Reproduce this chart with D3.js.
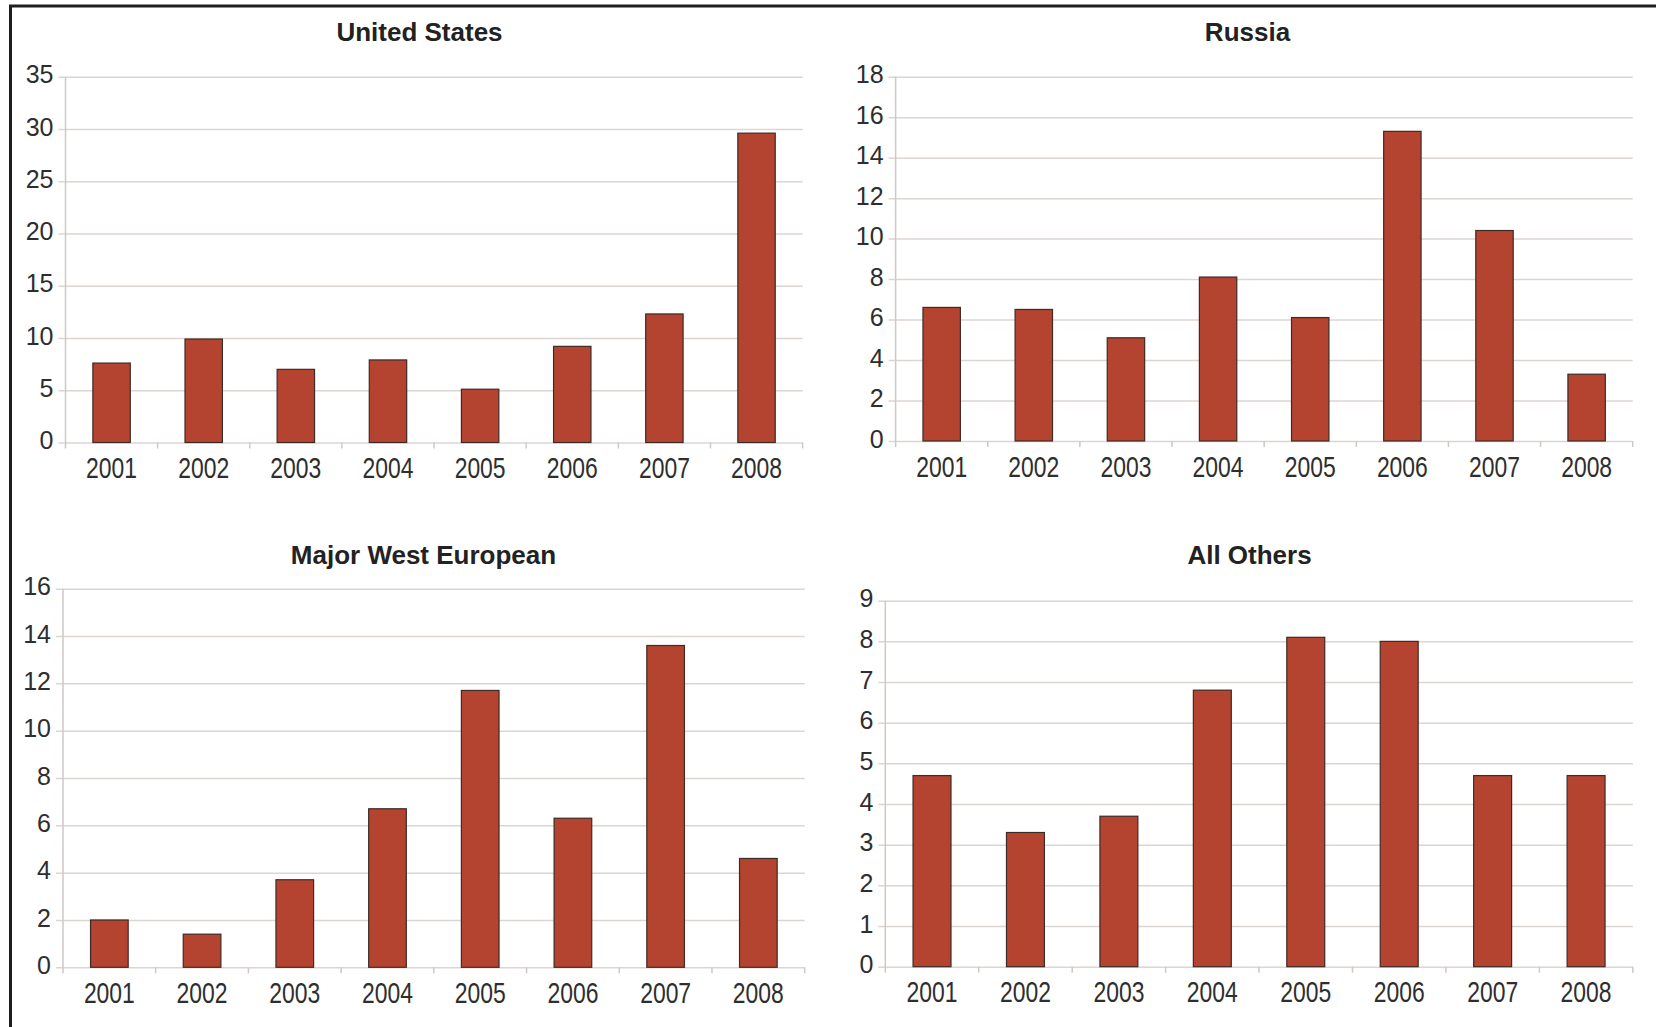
<!DOCTYPE html>
<html>
<head>
<meta charset="utf-8">
<script src="https://cdn.jsdelivr.net/npm/d3@7"></script>
<style>
  body { margin: 0; background: #fff; }
  svg { display: block; }
</style>
</head>
<body>
<svg id="chart" width="1656" height="1027"></svg>
<script>
// ---- data ----
const years = ["2001", "2002", "2003", "2004", "2005", "2006", "2007", "2008"];
const usValues = [7.6, 9.9, 7.0, 7.9, 5.1, 9.2, 12.3, 29.6];
const russiaValues = [6.6, 6.5, 5.1, 8.1, 6.1, 15.3, 10.4, 3.3];
const westEuropeValues = [2.0, 1.4, 3.7, 6.7, 11.7, 6.3, 13.6, 4.6];
const othersValues = [4.7, 3.3, 3.7, 6.8, 8.1, 8.0, 4.7, 4.7];
const usTicks = [0, 5, 10, 15, 20, 25, 30, 35];
const russiaTicks = [0, 2, 4, 6, 8, 10, 12, 14, 16, 18];
const westEuropeTicks = [0, 2, 4, 6, 8, 10, 12, 14, 16];
const othersTicks = [0, 1, 2, 3, 4, 5, 6, 7, 8, 9];
const titles = ["United States", "Russia", "Major West European", "All Others"];

// ---- layout ----
const panels = [
  { title: titles[0], values: usValues, ticks: usTicks, left: 65.5, right: 802.6, top: 76.7, bottom: 442.5, titleX: 419.5, titleY: 40.7 },
  { title: titles[1], values: russiaValues, ticks: russiaTicks, left: 895.6, right: 1632.7, top: 76.7, bottom: 441, titleX: 1247.5, titleY: 40.5 },
  { title: titles[2], values: westEuropeValues, ticks: westEuropeTicks, left: 63, right: 804.7, top: 588.7, bottom: 967.3, titleX: 423.5, titleY: 564 },
  { title: titles[3], values: othersValues, ticks: othersTicks, left: 885.3, right: 1632.8, top: 600.7, bottom: 966.7, titleX: 1249.5, titleY: 564 }
];

const svg = d3.select("#chart");
const gridColor = "#dcd6d2";
const axisColor = "#cfc8c4";
const textColor = "#2e2e2e";
const barFill = "#b4442f";
const barStroke = "#3d2b26";
const pad = 0.594;

// outer frame (left and top edges)
svg.append("path")
  .attr("d", "M10.5,1027 V6 H1656")
  .attr("fill", "none")
  .attr("stroke", "#1e1e1e")
  .attr("stroke-width", 3);

panels.forEach(p => {
  const w = p.right - p.left;
  const maxV = p.ticks[p.ticks.length - 1];
  const y = d3.scaleLinear().domain([0, maxV]).range([p.bottom, p.top]);
  const x = d3.scaleBand().domain(years).range([p.left, p.right])
    .paddingInner(pad).paddingOuter(pad / 2);

  const g = svg.append("g");

  // title
  g.append("text")
    .attr("x", p.titleX).attr("y", p.titleY)
    .attr("text-anchor", "middle")
    .attr("font-family", "'Liberation Sans', Arial, sans-serif")
    .attr("font-weight", "bold")
    .attr("font-size", 26)
    .attr("fill", "#222")
    .text(p.title);

  // y axis with gridlines
  const ya = g.append("g")
    .attr("transform", `translate(${p.left},0)`)
    .call(d3.axisLeft(y).tickValues(p.ticks).tickSizeInner(-w).tickSizeOuter(0).tickPadding(12));
  ya.select(".domain").remove();
  ya.selectAll(".tick line")
    .attr("x1", -7)
    .attr("stroke", gridColor)
    .attr("stroke-width", 1.5);
  ya.selectAll(".tick text")
    .attr("dy", "0.25em")
    .attr("font-family", "'Liberation Sans', Arial, sans-serif")
    .attr("font-size", 25)
    .attr("fill", textColor);

  // vertical axis line
  g.append("line")
    .attr("x1", p.left).attr("x2", p.left)
    .attr("y1", p.top).attr("y2", p.bottom + 6)
    .attr("stroke", axisColor).attr("stroke-width", 1.5);

  // category boundary ticks
  const gap = (x.step() - x.bandwidth()) / 2;
  const bounds = years.map(d => x(d) - gap).concat([p.right]);
  g.selectAll(".bt").data(bounds.slice(1)).join("line")
    .attr("x1", d => d).attr("x2", d => d)
    .attr("y1", p.bottom).attr("y2", p.bottom + 6)
    .attr("stroke", axisColor).attr("stroke-width", 1.5);

  // x axis labels
  const xa = g.append("g")
    .attr("transform", `translate(0,${p.bottom})`)
    .call(d3.axisBottom(x).tickSize(0).tickPadding(15));
  xa.select(".domain").remove();
  xa.selectAll(".tick text")
    .attr("font-family", "'Liberation Sans', Arial, sans-serif")
    .attr("font-size", 29)
    .attr("fill", textColor)
    .attr("transform", "scale(0.79,1)");

  // bars
  g.selectAll(".bar").data(p.values).join("rect")
    .attr("x", (d, i) => x(years[i]))
    .attr("y", d => y(d))
    .attr("width", x.bandwidth())
    .attr("height", d => y(0) - y(d))
    .attr("fill", barFill)
    .attr("stroke", barStroke)
    .attr("stroke-width", 1.2);
});
</script>
</body>
</html>
